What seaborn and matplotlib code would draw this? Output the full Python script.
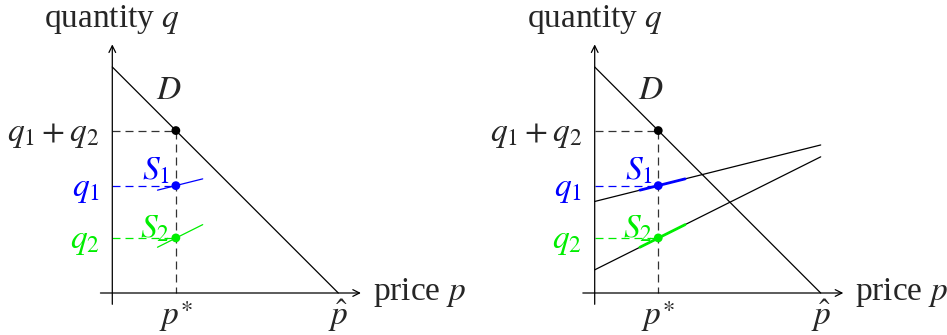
import matplotlib
matplotlib.use("Agg")
import matplotlib.pyplot as plt
import seaborn as sns

sns.set_theme(style="white")
plt.rcParams["font.family"] = ["Liberation Serif", "DejaVu Serif"]
plt.rcParams["mathtext.fontset"] = "stix"

# ---- model values ----
demand_p = [0.0, 8.0]
demand_q = [8.0, 0.0]
p_star = 2.25
p_hat = 8.0
q1 = 3.8
q2 = 1.95
q_total = 5.75

# supply curves across the full price range
supply_p = [0.0, 8.0]
supply1_q = [3.24, 5.24]
supply2_q = [0.82, 4.82]

# local pieces of the supply curves around p*
local_p = [1.6, 3.2]
local1_q = [3.64, 4.04]
local2_q = [1.62, 2.42]

BLUE = "#0000ff"
GREEN = "#00ee00"
FS = 24

W, H = 947, 335
UNIT = 28.25          # pixels per model unit
AXIS_Y = 293          # pixel row of the price axis


def make_axes(fig, x0_px, x1_px, origin_px):
    ax = fig.add_axes([x0_px / W, 0, (x1_px - x0_px) / W, 1])
    ax.set_xlim((x0_px - origin_px) / UNIT, (x1_px - origin_px) / UNIT)
    ax.set_ylim(-(H - AXIS_Y) / UNIT, AXIS_Y / UNIT)
    ax.axis("off")
    return ax


def draw_panel(ax, full_supply):
    # coordinate axes with open arrow heads
    arrow = dict(arrowstyle="->", lw=0.9, color="black", mutation_scale=12,
                 shrinkA=0, shrinkB=0)
    ax.annotate("", xy=(8.8, 0), xytext=(-0.42, 0), arrowprops=arrow)
    ax.annotate("", xy=(0, 8.8), xytext=(0, -0.4), arrowprops=arrow)

    dash = (0, (6.4, 4))
    # guide lines to the equilibrium values
    ax.plot([0, p_star], [q_total, q_total], ls=dash, lw=0.9, color="#333333")
    ax.plot([p_star, p_star], [q_total, 0], ls=dash, lw=0.9, color="#333333")
    ax.plot([0, p_star], [q1, q1], ls=dash, lw=0.9, color=BLUE)
    ax.plot([0, p_star], [q2, q2], ls=dash, lw=0.9, color=GREEN)

    # demand
    sns.lineplot(x=demand_p, y=demand_q, ax=ax, color="black", lw=0.9)

    if full_supply:
        sns.lineplot(x=supply_p, y=supply1_q, ax=ax, color="black", lw=0.9)
        sns.lineplot(x=supply_p, y=supply2_q, ax=ax, color="black", lw=0.9)
        lw_local = 2.0
    else:
        lw_local = 0.9
    sns.lineplot(x=local_p, y=local1_q, ax=ax, color=BLUE, lw=lw_local)
    sns.lineplot(x=local_p, y=local2_q, ax=ax, color=GREEN, lw=lw_local)

    # equilibrium points
    sns.scatterplot(x=[p_star], y=[q_total], ax=ax, color="black", s=40,
                    edgecolor="none", zorder=5)
    sns.scatterplot(x=[p_star], y=[q1], ax=ax, color=BLUE, s=40,
                    edgecolor="none", zorder=5)
    sns.scatterplot(x=[p_star], y=[q2], ax=ax, color=GREEN, s=40,
                    edgecolor="none", zorder=5)

    # labels
    ax.text(0, 9.42, "quantity $q$", ha="center", va="baseline", fontsize=FS)
    ax.text(9.23, -0.25, "price $p$", ha="left", va="baseline", fontsize=FS)
    ax.text(p_star, -1.12, "$p^{\\ast}$", ha="center", va="baseline",
            fontsize=FS)
    ax.text(p_hat, -1.12, r"$\hat{p}$", ha="center", va="baseline",
            fontsize=FS)
    ax.text(-0.45, q_total - 0.38, "$q_1+q_2$", ha="right", va="baseline",
            fontsize=FS)
    ax.text(-0.45, q1 - 0.36, "$q_1$", ha="right", va="baseline",
            fontsize=FS, color=BLUE)
    ax.text(-0.45, q2 - 0.36, "$q_2$", ha="right", va="baseline",
            fontsize=FS, color=GREEN)
    ax.text(2.0, 6.87, "$D$", ha="center", va="baseline", fontsize=FS)
    ax.text(p_star - 0.2, q1 + 0.2, "$S_1$", ha="right", va="baseline",
            fontsize=FS, color=BLUE)
    ax.text(p_star - 0.2, q2 + 0.0, "$S_2$", ha="right", va="baseline",
            fontsize=FS, color=GREEN)


fig = plt.figure(figsize=(W / 100, H / 100), dpi=100)
left = make_axes(fig, 0, 473, 112.3)
right = make_axes(fig, 473, 947, 594.7)
draw_panel(left, full_supply=False)
draw_panel(right, full_supply=True)
fig.savefig("out.png", dpi=100)
